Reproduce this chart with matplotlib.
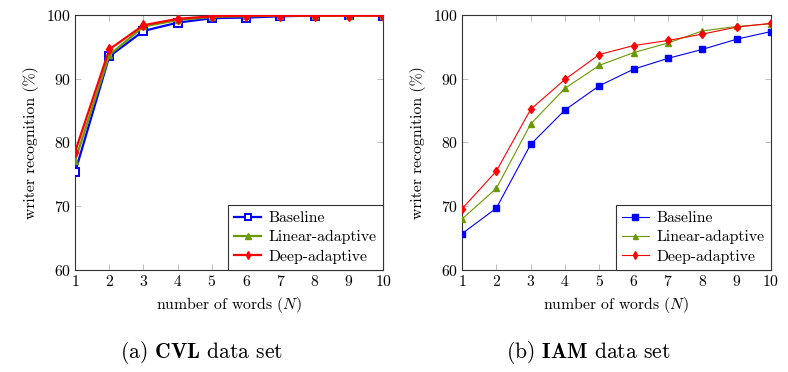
import matplotlib
matplotlib.use("Agg")
import matplotlib.pyplot as plt

plt.rcParams['font.family'] = ['cmr10', 'DejaVu Serif']
plt.rcParams['mathtext.fontset'] = 'cm'
plt.rcParams['axes.unicode_minus'] = False
plt.rcParams['axes.formatter.use_mathtext'] = True

N = [1, 2, 3, 4, 5, 6, 7, 8, 9, 10]

cvl_baseline = [75.3, 93.5, 97.5, 98.8, 99.5, 99.6, 99.8, 99.9, 100.0, 99.9]
cvl_linear = [77.1, 93.7, 98.2, 99.2, 99.7, 99.8, 99.9, 99.9, 99.9, 99.9]
cvl_deep = [78.5, 94.6, 98.4, 99.4, 99.8, 99.9, 99.9, 99.9, 99.9, 99.9]

iam_baseline = [65.7, 69.7, 79.7, 85.1, 88.9, 91.5, 93.2, 94.6, 96.2, 97.4]
iam_linear = [68.0, 72.8, 82.9, 88.5, 92.1, 94.1, 95.6, 97.5, 98.2, 98.6]
iam_deep = [69.6, 75.5, 85.2, 89.9, 93.8, 95.2, 96.0, 97.0, 98.1, 98.7]

labels = ['Baseline', 'Linear-adaptive', 'Deep-adaptive']
yticks = [60, 70, 80, 90, 100]
captions = [r'(a) $\mathbf{CVL}$ data set', r'(b) $\mathbf{IAM}$ data set']

BLUE = '#0000ff'
GREEN = '#6b9a00'
RED = '#ff0000'

fig = plt.figure(figsize=(7.88, 3.72), dpi=100)
ax1 = fig.add_axes([0.0952, 0.2742, 0.391, 0.6855])
ax2 = fig.add_axes([0.5863, 0.2742, 0.392, 0.6855])

# left: thick lines, open squares
ax1.plot(N, cvl_baseline, color=BLUE, lw=1.6, marker='s', ms=5.2, mfc='white', mec=BLUE, mew=1.4, label=labels[0], zorder=3)
ax1.plot(N, cvl_linear, color=GREEN, lw=1.6, marker='^', ms=5, mfc=GREEN, mec=GREEN, label=labels[1], zorder=4)
ax1.plot(N, cvl_deep, color=RED, lw=1.6, marker='d', ms=5, mfc=RED, mec=RED, label=labels[2], zorder=5)

# right: thin lines, filled
ax2.plot(N, iam_baseline, color=BLUE, lw=0.8, marker='s', ms=5, mfc=BLUE, mec=BLUE, label=labels[0], zorder=3)
ax2.plot(N, iam_linear, color=GREEN, lw=0.8, marker='^', ms=4.5, mfc=GREEN, mec=GREEN, label=labels[1], zorder=4)
ax2.plot(N, iam_deep, color=RED, lw=0.8, marker='d', ms=4.5, mfc=RED, mec=RED, label=labels[2], zorder=5)

centers = [0.2560, 0.7470]
for ax, cap, cx in zip([ax1, ax2], captions, centers):
    ax.set_xlim(1, 10)
    ax.set_ylim(60, 100)
    ax.set_xticks(N)
    ax.set_yticks(yticks)
    ax.tick_params(direction='in', top=True, right=True, color='#b4b4b4', length=4,
                   width=0.6, labelsize=11.3, pad=3)
    for s in ax.spines.values():
        s.set_color('#333333')
        s.set_linewidth(0.8)
    ax.set_xlabel(r'number of words ($N$)', fontsize=11.3, labelpad=4)
    ax.set_ylabel('writer recognition (%)', fontsize=11.3, labelpad=5)
    leg = ax.legend(loc='lower right', fontsize=11.3, frameon=True, fancybox=False,
                    edgecolor='#333333', framealpha=1, borderpad=0.4,
                    handlelength=1.7, labelspacing=0.32, borderaxespad=0.0,
                    handletextpad=0.5, markerscale=0.8)
    leg.get_frame().set_linewidth(0.8)
    fig.text(cx, 1 - 352 / 372, cap, ha='center', va='center', fontsize=15.5)

fig.savefig('out.png', dpi=100)
